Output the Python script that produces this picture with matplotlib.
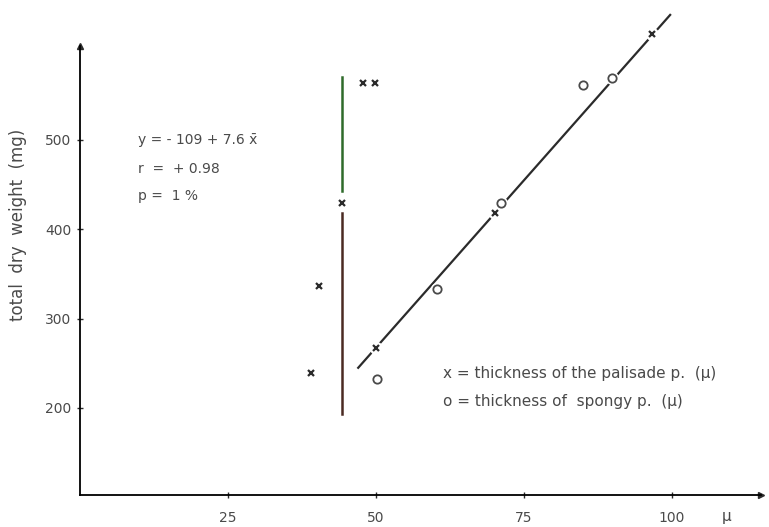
import numpy as np
import matplotlib.pyplot as plt
from matplotlib import rcParams
rcParams['font.family'] = 'sans-serif'
rcParams['font.sans-serif'] = ['DejaVu Sans']

# thickness of the palisade parenchyma (x markers)
palisade_x = [47.8, 49.8, 44.3, 40.4, 39.0, 50.0, 70.1, 96.6]
palisade_y = [564, 564, 430, 336, 239, 267, 418, 619]

# thickness of the spongy parenchyma (o markers)
spongy_x = [50.1, 60.3, 71.1, 85.0, 89.9]
spongy_y = [233, 333, 429, 562, 569]

# regression line ends
fit_x = [47.0, 99.7]
fit_y = [245, 640]

# vertical line (upper and lower part)
vline_x = 44.3
vline_upper = [443, 571]
vline_lower = [193, 418]

xticks = [25, 50, 75, 100]
yticks = [200, 300, 400, 500]

ink = '#2b2b2b'
grey = '#4a4a4a'

fig = plt.figure(figsize=(7.69, 5.27), dpi=100)
ax = fig.add_axes([80 / 769, 32 / 527, 689 / 769, 495 / 527])
ax.set_xlim(0, 116.4)
ax.set_ylim(102.6, 656.7)

for s in ['top', 'right']:
    ax.spines[s].set_visible(False)
ax.spines['left'].set_bounds(102.6, 605)
ax.spines['left'].set_linewidth(1.3)
ax.spines['bottom'].set_bounds(0, 115)
ax.spines['bottom'].set_linewidth(1.3)
ax.plot(0, 605, '^', color=ink, ms=5, clip_on=False)
ax.plot(115, 102.6, '>', color=ink, ms=5, clip_on=False)

ax.set_xticks(xticks)
ax.set_yticks(yticks)
ax.tick_params(direction='inout', length=5, width=1, color=ink,
               labelsize=10, labelcolor=grey)
ax.tick_params(axis='x', pad=9)

# lines
ax.plot(fit_x, fit_y, color=ink, lw=1.6)
ax.plot([vline_x, vline_x], vline_upper, color='#2f6b2a', lw=1.8)
ax.plot([vline_x, vline_x], vline_lower, color='#4a2a22', lw=1.8)

# white backing so lines break around the markers
allx = palisade_x + spongy_x
ally = palisade_y + spongy_y
ax.plot(allx, ally, 'o', color='white', ms=8.5, ls='none')

ax.plot(palisade_x, palisade_y, 'x', color=ink, ms=5, mew=1.6, ls='none')
ax.plot(spongy_x, spongy_y, 'o', mfc='none', mec=grey, ms=6, mew=1.3, ls='none')

# annotations
ax.text(9.8, 500, 'y = - 109 + 7.6 x\u0304', fontsize=10, color=grey, va='center')
ax.text(9.8, 468, 'r  =  + 0.98', fontsize=10, color=grey, va='center')
ax.text(9.8, 437, 'p =  1 %', fontsize=10, color=grey, va='center')

ax.text(61.3, 239, 'x = thickness of the palisade p.  (\u00b5)', fontsize=11,
        color=grey, va='center')
ax.text(61.3, 207, 'o = thickness of  spongy p.  (\u00b5)', fontsize=11,
        color=grey, va='center')

ax.text(109.3, 79, '\u00b5', fontsize=11, color=grey, ha='center', va='center',
        clip_on=False)
ax.text(-10.5, 405, 'total  dry  weight  (mg)', fontsize=12, color=grey,
        rotation=90, ha='center', va='center', clip_on=False)

fig.savefig('out.png', dpi=100)
